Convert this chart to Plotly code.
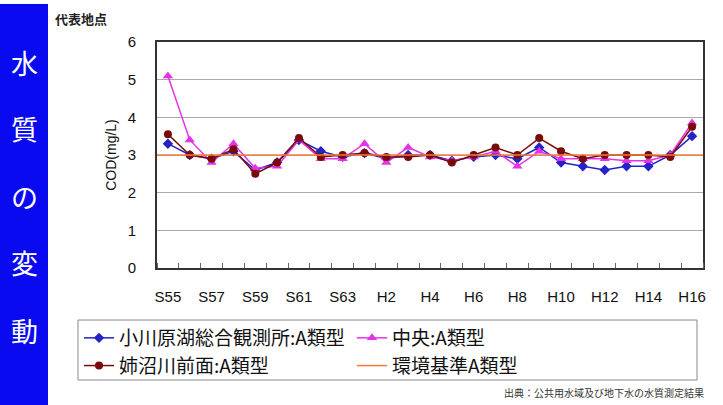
import plotly.graph_objects as go

# Fiscal years S55 (1980) .. H16 (2004)
years = ["S55", "S56", "S57", "S58", "S59", "S60", "S61", "S62", "S63",
         "H1", "H2", "H3", "H4", "H5", "H6", "H7", "H8", "H9", "H10",
         "H11", "H12", "H13", "H14", "H15", "H16"]
tick_labels = ["S55", "S57", "S59", "S61", "S63", "H2", "H4", "H6", "H8",
               "H10", "H12", "H14", "H16"]

# COD (mg/L) at each monitoring point
ogawara = [3.3, 3.0, 2.9, 3.1, 2.6, 2.8, 3.4, 3.1, 2.95, 3.05, 2.9, 3.0, 3.0,
           2.85, 2.95, 3.0, 2.9, 3.2, 2.8, 2.7, 2.6, 2.7, 2.7, 3.0, 3.5]
chuo = [5.1, 3.4, 2.8, 3.3, 2.65, 2.7, 3.4, 2.9, 2.9, 3.3, 2.8, 3.2, 2.95,
        2.85, 2.95, 3.1, 2.7, 3.1, 2.9, 2.9, 2.9, 2.85, 2.85, 3.0, 3.85]
anenuma = [3.55, 3.0, 2.9, 3.15, 2.5, 2.8, 3.45, 2.95, 3.0, 3.05, 2.95, 2.95,
           3.0, 2.8, 3.0, 3.2, 3.0, 3.45, 3.1, 2.9, 3.0, 3.0, 3.0, 2.95, 3.75]
standard_a = 3.0

x = list(range(len(years)))
tick_pos = [years.index(t) for t in tick_labels]

W, H = 723, 405
L, R, T, B = 157, 703, 42, 268


def px(xp):
    return (xp - L) / (R - L)


def py(yp):
    return (B - yp) / (B - T)


jp = "Noto Sans CJK JP"
lat = "Liberation Sans"

fig = go.Figure()
fig.add_trace(go.Scatter(
    x=x, y=ogawara, name="小川原湖総合観測所:A類型", mode="lines+markers",
    line=dict(color="#2323c8", width=1.5),
    marker=dict(symbol="diamond", size=8, color="#2323c8")))
fig.add_trace(go.Scatter(
    x=x, y=chuo, name="中央:A類型", mode="lines+markers",
    line=dict(color="#e632e6", width=1.5),
    marker=dict(symbol="triangle-up", size=9, color="#e632e6")))
fig.add_trace(go.Scatter(
    x=x, y=anenuma, name="姉沼川前面:A類型", mode="lines+markers",
    line=dict(color="#7a0a0a", width=1.5),
    marker=dict(symbol="circle", size=8, color="#7a0a0a")))
fig.add_trace(go.Scatter(
    x=[-0.5, len(years) - 0.5], y=[standard_a, standard_a],
    name="環境基準A類型", mode="lines",
    line=dict(color="#f07c3c", width=1.5)))

# Left title band
fig.add_shape(type="rect", xref="paper", yref="paper",
              x0=px(0), x1=px(48), y0=py(H), y1=py(4),
              fillcolor="#0a0af0", line=dict(width=0), layer="below")
for ch, yc in zip("水質の変動", [62, 128, 196, 262, 330]):
    fig.add_annotation(text=ch, xref="paper", yref="paper",
                       x=px(24), y=py(yc), xanchor="center",
                       yanchor="middle", showarrow=False,
                       font=dict(family=jp, size=27, color="white"))

# Frame around the legend
fig.add_shape(type="rect", xref="paper", yref="paper",
              x0=px(78), x1=px(697), y0=py(380), y1=py(320),
              fillcolor="rgba(0,0,0,0)", line=dict(color="#888", width=1))

fig.add_annotation(text="<b>代表地点</b>", xref="paper", yref="paper",
                   x=px(53), y=py(18), xanchor="left", yanchor="middle",
                   showarrow=False,
                   font=dict(family=jp, size=13, color="#222"))
fig.add_annotation(text="出典：公共用水域及び地下水の水質測定結果",
                   xref="paper", yref="paper", x=px(706), y=py(392),
                   xanchor="right", yanchor="middle", showarrow=False,
                   font=dict(family=jp, size=10, color="#333"))

fig.update_layout(
    width=W, height=H,
    margin=dict(l=L, r=W - R, t=T, b=H - B, pad=0),
    paper_bgcolor="white", plot_bgcolor="white",
    showlegend=True,
    legend=dict(orientation="h", x=px(79), y=py(319), xanchor="left",
                yanchor="top", entrywidth=228, traceorder="normal",
                bgcolor="rgba(0,0,0,0)", borderwidth=0,
                font=dict(family=jp, size=19, color="#111"),
                tracegroupgap=0, itemwidth=30),
    xaxis=dict(range=[-0.5, len(years) - 0.5], tickmode="array",
               tickvals=tick_pos, ticktext=tick_labels, ticks="",
               showgrid=False, zeroline=False, showline=True,
               linecolor="#333", linewidth=2, mirror=True,
               ticklabelstandoff=14,
               tickfont=dict(family=lat, size=15, color="#111"),
               minor=dict(tickmode="linear", tick0=0.5, dtick=1,
                          ticks="inside", ticklen=5, tickcolor="#666",
                          showgrid=False)),
    yaxis=dict(range=[0, 6], dtick=1, ticks="", showgrid=True,
               gridcolor="#aaa", gridwidth=1, zeroline=False,
               showline=True, linecolor="#333", linewidth=2, mirror=True,
               ticklabelstandoff=16,
               tickfont=dict(family=lat, size=15, color="#111"),
               title=dict(text="COD(mg/L)", standoff=8,
                          font=dict(family=lat, size=14, color="#111"))),
)

fig.write_html("out.html")
